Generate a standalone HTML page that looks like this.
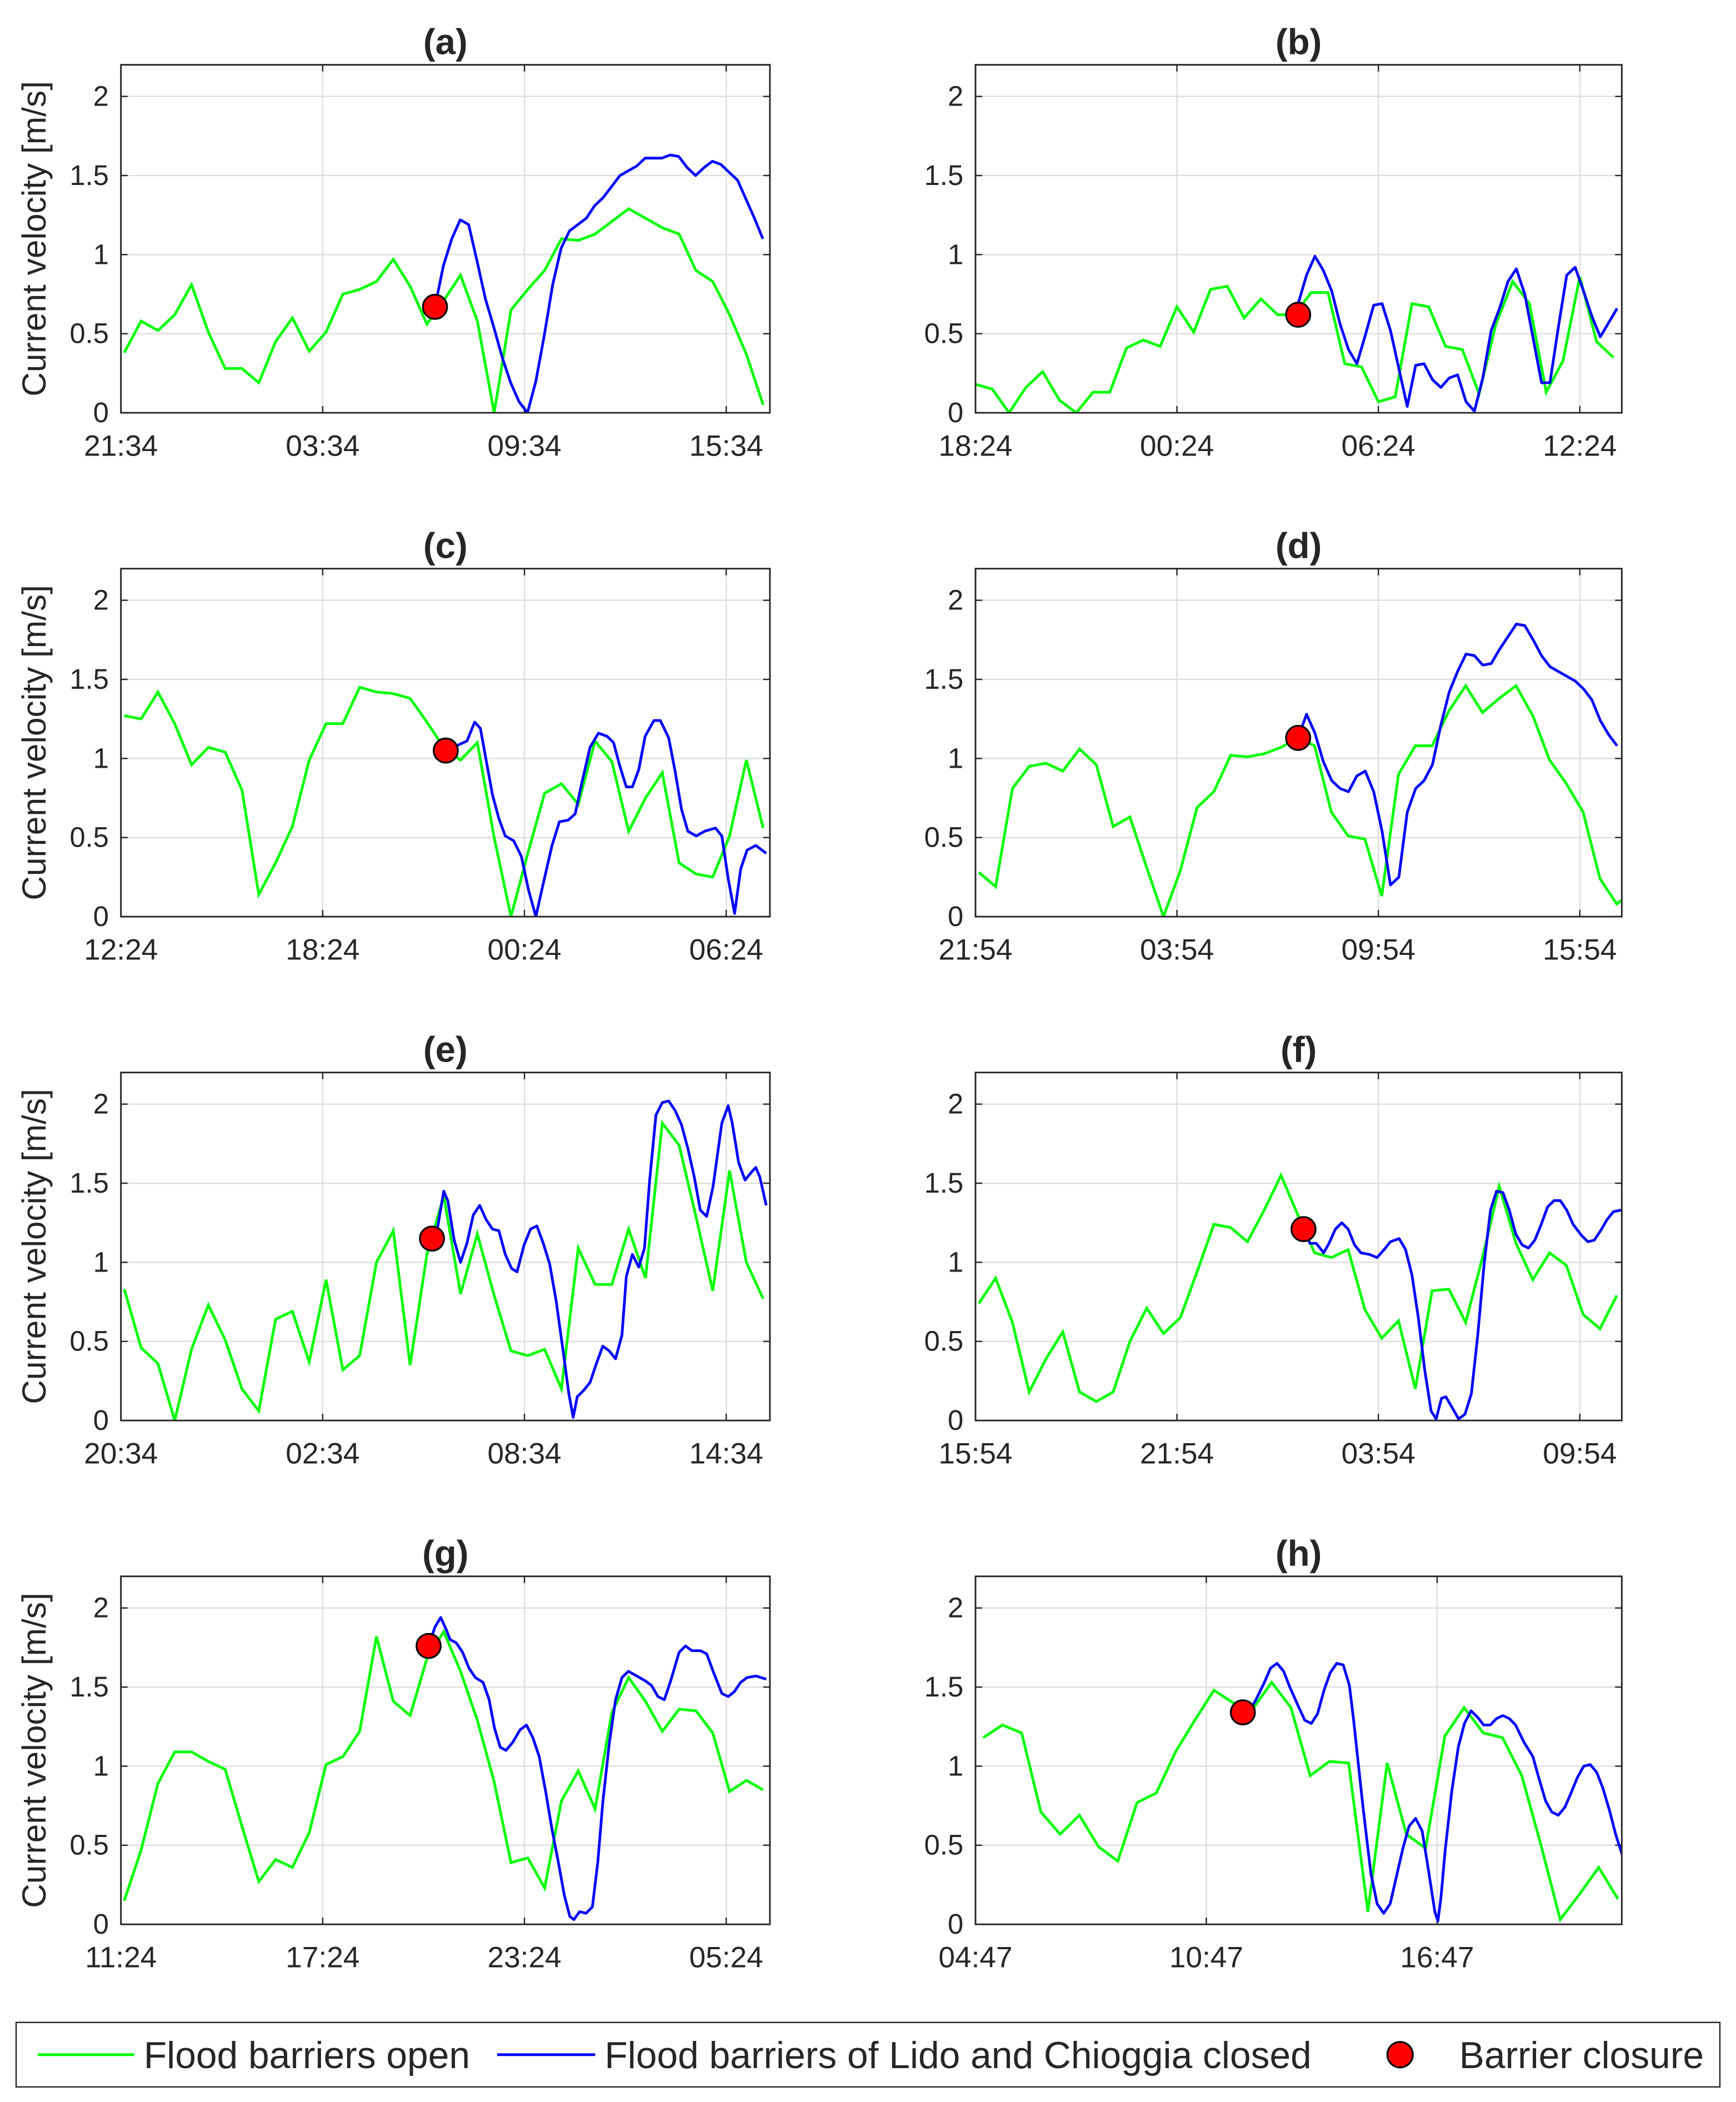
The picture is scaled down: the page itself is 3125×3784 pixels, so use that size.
<!DOCTYPE html>
<html><head><meta charset="utf-8"><style>
html,body{margin:0;padding:0;background:#fff}
svg{display:block}
text{font-family:"Liberation Sans",Arial,sans-serif;fill:#262626}
</style></head><body>
<svg id="fig" width="3125" height="3784" viewBox="0 0 1292 1564" xmlns="http://www.w3.org/2000/svg">
<g id="panels"></g>
<g id="legend">
  <rect x="12" y="1505" width="1268" height="48" fill="#fff" stroke="#262626" stroke-width="1"/>
  <line x1="28" y1="1529" x2="100" y2="1529" stroke="#00ff00" stroke-width="2"/>
  <text x="107" y="1539" font-size="28">Flood barriers open</text>
  <line x1="370" y1="1529" x2="443" y2="1529" stroke="#0000ff" stroke-width="2"/>
  <text x="450" y="1539" font-size="28">Flood barriers of Lido and Chioggia closed</text>
  <circle cx="1042" cy="1529" r="9.5" fill="#ff0000" stroke="#000" stroke-width="1.3"/>
  <text x="1086" y="1539" font-size="28">Barrier closure</text>
</g>
</svg>
<script>
const panelNames = ["a","b","c","d","e","f","g","h"];
const tickLabels = [
 ["21:34","03:34","09:34","15:34"],
 ["18:24","00:24","06:24","12:24"],
 ["12:24","18:24","00:24","06:24"],
 ["21:54","03:54","09:54","15:54"],
 ["20:34","02:34","08:34","14:34"],
 ["15:54","21:54","03:54","09:54"],
 ["11:24","17:24","23:24","05:24"],
 ["04:47","10:47","16:47"]
];
const spanHours = [19.3,19.25,19.3,19.25,19.3,19.25,19.3,16.8];
const yTicks = [0,0.5,1,1.5,2];
const yTickLabels = ["0","0.5","1","1.5","2"];
const greenStart = [0.1,0,0.1,0.1,0.1,0.1,0.1,0.2];
const greenStep = 0.5;
const greenA = [.38,.58,.52,.62,.81,.51,.28,.28,.19,.45,.60,.39,.51,.75,.78,.83,.97,.80,.56,.71,.87,.58,0,.65,.78,.90,1.10,1.09,1.13,1.21,1.29,1.23,1.17,1.13,.90,.83,.62,.37,.05];
const greenB = [.18,.15,0,.16,.26,.08,0,.13,.13,.41,.46,.42,.67,.51,.78,.80,.60,.72,.62,.62,.76,.76,.31,.29,.07,.10,.69,.67,.42,.40,.12,.56,.83,.69,.13,.33,.86,.45,.35];
const greenC = [1.27,1.25,1.42,1.22,.96,1.07,1.04,.80,.14,.34,.57,.99,1.22,1.22,1.45,1.42,1.41,1.38,1.23,1.07,.99,1.10,.50,0,.40,.78,.84,.71,1.11,.98,.54,.75,.91,.34,.27,.25,.51,.99,.56];
const greenD = [.28,.19,.81,.95,.97,.92,1.06,.96,.57,.63,.31,0,.29,.69,.79,1.02,1.01,1.03,1.07,1.13,1.08,.66,.51,.49,.13,.90,1.08,1.08,1.30,1.46,1.29,1.38,1.46,1.27,.99,.84,.66,.24,.08,.16];
const greenE = [.83,.46,.36,0,.45,.73,.51,.20,.06,.64,.69,.37,.89,.32,.41,1.00,1.20,.35,1.05,1.42,.80,1.18,.79,.44,.41,.45,.20,1.09,.86,.86,1.21,.90,1.88,1.74,1.29,.82,1.58,1.00,.77];
const greenF = [.74,.90,.62,.18,.39,.56,.18,.12,.18,.50,.71,.55,.65,.94,1.24,1.22,1.13,1.33,1.55,1.30,1.06,1.03,1.08,.70,.52,.63,.20,.82,.83,.62,1.03,1.48,1.12,.89,1.06,.98,.67,.58,.79];
const greenG = [.15,.47,.89,1.09,1.09,1.03,.98,.62,.27,.41,.36,.58,1.01,1.06,1.22,1.82,1.41,1.32,1.68,1.85,1.60,1.29,.90,.39,.42,.23,.78,.97,.73,1.34,1.56,1.41,1.22,1.36,1.35,1.21,.84,.91,.85];
const greenH = [1.18,1.26,1.21,.71,.57,.69,.49,.40,.77,.83,1.09,1.29,1.48,1.40,1.36,1.53,1.37,.94,1.03,1.02,.08,1.02,.57,.48,1.19,1.37,1.21,1.18,.94,.50,.03,.19,.36,.16];
const closureT = [9.34,9.61,9.66,9.61,9.25,9.77,9.15,6.95];
const closureV = [.67,.62,1.05,1.13,1.15,1.21,1.76,1.34];
const blueA = [.67,.93,1.10,1.22,1.19,.96,.72,.54,.35,.19,.07,0,.20,.49,.81,1.04,1.15,1.19,1.23,1.31,1.36,1.43,1.50,1.53,1.56,1.61,1.61,1.61,1.63,1.62,1.55,1.50,1.55,1.59,1.57,1.52,1.47,1.35,1.23,1.10];
const blueB = [.69,.87,.99,.90,.77,.56,.40,.31,.49,.68,.69,.52,.28,.04,.30,.31,.21,.16,.22,.24,.07,.01,.22,.52,.66,.83,.91,.75,.47,.19,.19,.54,.87,.92,.77,.61,.48,.57,.66];
const blueCT = [9.66,10.29,10.52,10.69,10.86,11.05,11.24,11.43,11.68,11.91,12.12,12.34,12.56,12.82,13.04,13.30,13.51,13.70,13.95,14.20,14.46,14.65,14.84,15.03,15.21,15.40,15.59,15.85,16.04,16.29,16.48,16.67,16.86,17.11,17.36,17.68,17.87,18.06,18.25,18.43,18.62,18.88,19.19];
const blueC = [1.05,1.11,1.23,1.19,.99,.77,.62,.51,.48,.38,.17,0,.21,.45,.60,.61,.65,.84,1.07,1.16,1.14,1.10,.95,.82,.82,.93,1.14,1.24,1.24,1.13,.92,.68,.54,.51,.54,.56,.51,.24,.02,.30,.42,.45,.40];
const blueD = [1.13,1.28,1.16,.98,.86,.81,.79,.89,.92,.79,.54,.20,.25,.66,.81,.86,.96,1.21,1.42,1.55,1.66,1.65,1.59,1.60,1.69,1.77,1.85,1.84,1.75,1.65,1.58,1.55,1.52,1.49,1.44,1.37,1.24,1.15,1.08];
const blueET = [9.25,9.41,9.60,9.72,9.91,10.10,10.29,10.48,10.67,10.86,11.05,11.24,11.43,11.62,11.78,11.99,12.18,12.37,12.56,12.75,12.94,13.13,13.32,13.45,13.57,13.76,13.95,14.14,14.33,14.52,14.71,14.90,15.03,15.21,15.40,15.57,15.72,15.91,16.10,16.29,16.48,16.67,16.86,17.05,17.23,17.42,17.61,17.87,18.06,18.18,18.37,18.56,18.75,18.88,19.00,19.19];
const blueE = [1.15,1.21,1.45,1.39,1.14,1.00,1.12,1.30,1.36,1.27,1.21,1.20,1.05,.96,.94,1.11,1.21,1.23,1.12,.99,.76,.47,.17,.02,.15,.19,.24,.36,.47,.44,.39,.54,.91,1.05,.97,1.09,1.51,1.93,2.01,2.02,1.96,1.87,1.72,1.54,1.33,1.29,1.48,1.88,1.99,1.88,1.63,1.52,1.57,1.60,1.54,1.36];
const blueFT = [9.77,9.96,10.15,10.37,10.53,10.72,10.91,11.10,11.29,11.48,11.73,11.96,12.17,12.36,12.62,12.81,13.00,13.19,13.38,13.57,13.72,13.88,14.01,14.20,14.39,14.58,14.77,14.96,15.15,15.34,15.52,15.71,15.90,16.09,16.28,16.47,16.66,16.85,17.04,17.23,17.42,17.61,17.80,18.05,18.24,18.43,18.62,18.81,19.00,19.23];
const blueF = [1.21,1.12,1.12,1.06,1.12,1.21,1.25,1.21,1.11,1.06,1.05,1.03,1.08,1.13,1.15,1.08,.92,.65,.32,.06,.01,.14,.15,.08,.01,.04,.17,.54,.99,1.33,1.45,1.44,1.33,1.18,1.11,1.09,1.14,1.24,1.35,1.39,1.39,1.33,1.24,1.17,1.13,1.14,1.20,1.27,1.32,1.33];
const blueGT = [9.15,9.34,9.51,9.66,9.79,9.97,10.16,10.35,10.54,10.77,10.95,11.11,11.28,11.45,11.65,11.87,12.06,12.25,12.44,12.63,12.82,13.01,13.19,13.35,13.47,13.64,13.83,14.02,14.18,14.33,14.52,14.71,14.90,15.09,15.34,15.59,15.78,15.97,16.16,16.35,16.60,16.79,16.98,17.23,17.42,17.61,17.87,18.06,18.24,18.43,18.62,18.88,19.19];
const blueG = [1.76,1.88,1.94,1.87,1.80,1.78,1.72,1.62,1.56,1.53,1.42,1.24,1.12,1.10,1.15,1.23,1.26,1.18,1.06,.84,.60,.39,.18,.05,.03,.08,.07,.11,.39,.77,1.14,1.42,1.56,1.60,1.57,1.54,1.51,1.44,1.42,1.54,1.72,1.76,1.73,1.73,1.71,1.60,1.46,1.44,1.47,1.53,1.56,1.57,1.55];
const blueHT = [6.95,7.12,7.29,7.51,7.67,7.84,8.01,8.17,8.39,8.56,8.73,8.89,9.06,9.22,9.39,9.56,9.72,9.83,9.94,10.06,10.17,10.28,10.44,10.61,10.78,10.94,11.11,11.27,11.44,11.61,11.77,11.94,12.02,12.10,12.21,12.38,12.55,12.71,12.88,13.05,13.21,13.38,13.54,13.71,13.88,14.04,14.26,14.49,14.65,14.82,14.98,15.15,15.32,15.48,15.65,15.81,15.98,16.15,16.31,16.48,16.64,16.81];
const blueH = [1.34,1.35,1.42,1.53,1.62,1.65,1.60,1.50,1.38,1.29,1.27,1.33,1.48,1.59,1.65,1.64,1.51,1.29,1.04,.77,.54,.32,.13,.07,.13,.30,.48,.62,.67,.59,.35,.08,.02,.17,.47,.84,1.12,1.27,1.35,1.31,1.26,1.26,1.30,1.32,1.30,1.26,1.15,1.06,.92,.78,.71,.69,.74,.83,.93,1.00,1.01,.96,.86,.72,.57,.44];
const greens = [greenA,greenB,greenC,greenD,greenE,greenF,greenG,greenH];
const blues = [blueA,blueB,blueC,blueD,blueE,blueF,blueG,blueH];
const blueTimes = [null,null,blueCT,null,blueET,blueFT,blueGT,blueHT];
const blueStep = 0.25;

const NS = "http://www.w3.org/2000/svg";
const root = document.getElementById("panels");
function mk(tag, attrs, parent){
  const e = document.createElementNS(NS, tag);
  for (const k in attrs) e.setAttribute(k, attrs[k]);
  parent.appendChild(e);
  return e;
}
const colX = [[90,573],[726,1207]];
const rowY = [[48,307],[423,682],[798,1057],[1173,1432]];
const yMax = 2.2;

panelNames.forEach((nm, i) => {
  const [x0, x1] = colX[i % 2];
  const [top, bot] = rowY[Math.floor(i / 2)];
  const span = spanHours[i];
  const xs = t => x0 + (t / span) * (x1 - x0);
  const ys = v => bot - (v / yMax) * (bot - top);
  const g = mk("g", {}, root);
  
  
  mk("rect", {x:x0, y:top, width:x1-x0, height:bot-top, fill:"#fff"}, g);
  const cp = mk("clipPath", {id:"clip" + i}, g);
  mk("rect", {x:x0, y:top, width:x1-x0, height:bot-top}, cp);
  yTicks.forEach((v, k) => {
    const gl = mk("line", {x1:x0, x2:x1, y1:ys(v), y2:ys(v), stroke:"#dedede", "stroke-width":1}, g);
    
    
    mk("line", {x1:x0, x2:x0+5, y1:ys(v), y2:ys(v), stroke:"#262626", "stroke-width":1}, g);
    mk("line", {x1:x1-5, x2:x1, y1:ys(v), y2:ys(v), stroke:"#262626", "stroke-width":1}, g);
    const tl = mk("text", {x:(x0-9), y:ys(v)+7, "font-size":21, "text-anchor":"end"}, g);
    tl.textContent = yTickLabels[k];
    
    
  });
  tickLabels[i].forEach((lab, k) => {
    const tx = xs(k * 6);
    if (k > 0) {
      const gl = mk("line", {x1:tx, x2:tx, y1:top, y2:bot, stroke:"#dedede", "stroke-width":1}, g);
      
      
    }
    mk("line", {x1:tx, x2:tx, y1:bot-5, y2:bot, stroke:"#262626", "stroke-width":1}, g);
    mk("line", {x1:tx, x2:tx, y1:top, y2:top+5, stroke:"#262626", "stroke-width":1}, g);
    const tl = mk("text", {x:tx, y:bot+32, "font-size":22, "text-anchor":"middle"}, g);
    tl.textContent = lab;
    
    
  });
  const gp = greens[i].map((v, k) => xs(greenStart[i] + k * greenStep).toFixed(2) + "," + ys(v).toFixed(2)).join(" ");
  const gl = mk("polyline", {points:gp, fill:"none", stroke:"#00ff00", "stroke-width":2, "stroke-linejoin":"miter", "clip-path":"url(#clip"+i+")"}, g);
  
  
  const bt = blueTimes[i];
  const bp = blues[i].map((v, k) => {
    const t = bt ? bt[k] : closureT[i] + k * blueStep;
    return xs(t).toFixed(2) + "," + ys(v).toFixed(2);
  }).join(" ");
  const bl = mk("polyline", {points:bp, fill:"none", stroke:"#0000ff", "stroke-width":2, "stroke-linejoin":"round", "clip-path":"url(#clip"+i+")"}, g);
  
  
  const mc = mk("circle", {cx:xs(closureT[i]), cy:ys(closureV[i]), r:9, fill:"#ff0000", stroke:"#000", "stroke-width":1.3}, g);
  
  
  mk("rect", {x:x0, y:top, width:x1-x0, height:bot-top, fill:"none", stroke:"#262626", "stroke-width":1.2}, g);
  const tt = mk("text", {x:(x0+x1)/2, y:top-8, "font-size":27, "font-weight":"bold", "text-anchor":"middle"}, g);
  tt.textContent = "(" + nm + ")";
  
  
  if (i % 2 === 0) {
    const cy = (top + bot) / 2;
    const yl = mk("text", {x:0, y:0, "font-size":25, "text-anchor":"middle", transform:"translate(34," + cy + ") rotate(-90)"}, g);
    yl.textContent = "Current velocity [m/s]";
    
    
  }
});
</script>
</body></html>
